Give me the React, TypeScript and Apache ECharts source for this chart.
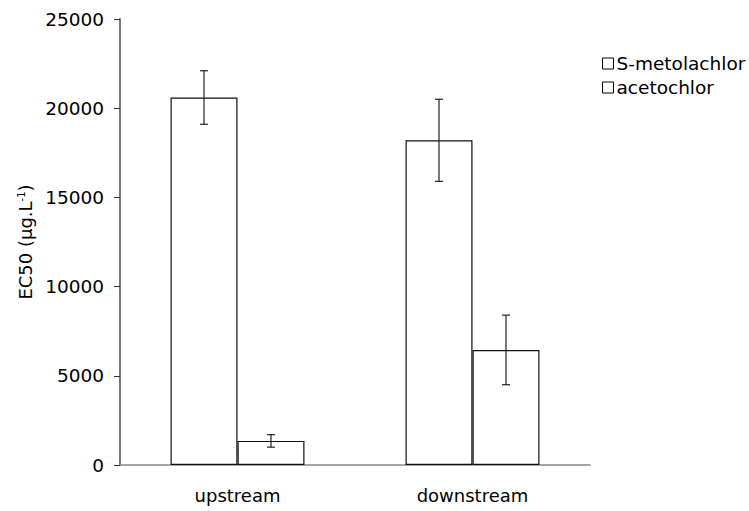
import React, { useEffect, useRef } from "react";
import * as echarts from "echarts";

const categories = ["upstream", "downstream"];
const seriesNames = ["S-metolachlor", "acetochlor"];
const sMetolachlor = [20600, 18200];
const sMetolachlorErr = [1500, 2300];
const acetochlor = [1350, 6450];
const acetochlorErr = [350, 1950];
const yTicks = [0, 5000, 10000, 15000, 20000, 25000];

const FONT = "DejaVu Sans, sans-serif";

export default function App() {
  const ref = useRef<HTMLDivElement>(null);
  useEffect(() => {
    if (!ref.current) return;
    const chart = echarts.init(ref.current, undefined, { renderer: "svg" });
    const barGapCat = 0.43;
    const offsetFrac = (1 - barGapCat) / 4;
    const errData: any[] = [];
    categories.forEach((_, i) => {
      errData.push([i, sMetolachlor[i], sMetolachlorErr[i], -1]);
      errData.push([i, acetochlor[i], acetochlorErr[i], 1]);
    });
    chart.setOption({
      animation: false,
      textStyle: { fontFamily: FONT, color: "#000" },
      grid: { left: 120, right: 159, top: 19, bottom: 46, containLabel: false },
      legend: {
        left: 597,
        top: 49,
        orient: "vertical",
        itemWidth: 11,
        itemHeight: 11,
        itemGap: 5,
        icon: "rect",
        data: seriesNames,
        textStyle: { fontFamily: FONT, fontSize: 18.5, color: "#000", padding: [0, 0, 0, -2] },
        itemStyle: { color: "#fff", borderColor: "#000", borderWidth: 1 },
      },
      xAxis: {
        type: "category",
        data: categories,
        axisLine: { lineStyle: { color: "#888", width: 1.5 } },
        axisTick: { show: false },
        axisLabel: { fontFamily: FONT, fontSize: 18, color: "#000", margin: 21 },
      },
      yAxis: {
        type: "value",
        min: yTicks[0],
        max: yTicks[yTicks.length - 1],
        interval: 5000,
        name: "{a|EC50 (µg.L}{s|-1}{a|)}",
        nameLocation: "middle",
        nameGap: 84,
        nameRotate: 90,
        nameTextStyle: {
          rich: {
            a: { fontFamily: FONT, fontSize: 18, color: "#000" },
            s: { fontFamily: FONT, fontSize: 10, color: "#000", verticalAlign: "top", padding: [0, 0, 8, 0] },
          },
        },
        splitLine: { show: false },
        axisLine: { show: true, lineStyle: { color: "#777", width: 2 } },
        axisTick: { show: true, inside: false, length: 6, lineStyle: { color: "#333" } },
        axisLabel: {
          fontFamily: FONT,
          fontSize: 18.5,
          color: "#000",
          margin: 16,
          formatter: (v: number) => String(v),
        },
      },
      series: [
        {
          name: seriesNames[0],
          type: "bar",
          data: sMetolachlor,
          barGap: "0%",
          barCategoryGap: "43%",
          itemStyle: { color: "#fff", borderColor: "#111", borderWidth: 1.2 },
        },
        {
          name: seriesNames[1],
          type: "bar",
          data: acetochlor,
          barGap: "0%",
          barCategoryGap: "43%",
          itemStyle: { color: "#fff", borderColor: "#111", borderWidth: 1.2 },
        },
        {
          type: "custom",
          data: errData,
          z: 10,
          silent: true,
          renderItem: (params: any, api: any) => {
            const cat = api.value(0);
            const val = api.value(1);
            const err = api.value(2);
            const side = api.value(3);
            const band = api.size([1, 0])[0];
            const c = api.coord([cat, val]);
            const x = c[0] + side * band * offsetFrac;
            const top = api.coord([cat, val + err])[1];
            const bot = api.coord([cat, val - err])[1];
            const cap = 4;
            const style = { stroke: "#222", lineWidth: 1.2 };
            return {
              type: "group",
              children: [
                { type: "line", shape: { x1: x, y1: top, x2: x, y2: bot }, style },
                { type: "line", shape: { x1: x - cap, y1: top, x2: x + cap, y2: top }, style },
                { type: "line", shape: { x1: x - cap, y1: bot, x2: x + cap, y2: bot }, style },
              ],
            };
          },
        },
      ],
    });
    return () => chart.dispose();
  }, []);
  return <div ref={ref} style={{ width: 749, height: 511, position: "absolute", left: 0, top: 0, background: "#fff" }} />;
}
